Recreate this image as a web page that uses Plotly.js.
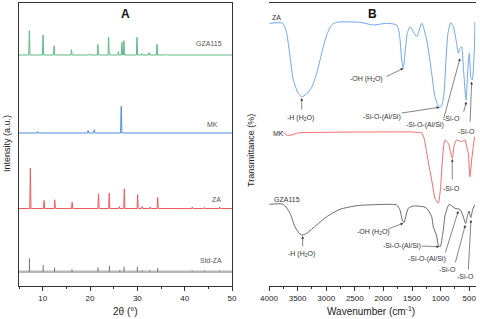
<!DOCTYPE html>
<html>
<head>
<meta charset="utf-8">
<script src="https://cdn.plot.ly/plotly-3.0.1.min.js"></script>
<style>
html,body{margin:0;padding:0;background:#fff;}
#chart{width:480px;height:319px;}
</style>
</head>
<body>
<div id="chart"></div>
<script>
// ---------- Panel A : XRD (2θ in degrees, intensity in a.u.) ----------
const xrdSeries = ['Std-ZA', 'ZA', 'MK', 'GZA115'];
const xrdOffsets = [14.3, 77.5, 153, 231];

const gzaPos = [7.19, 10.08, 12.42, 14.0, 16.09, 19.8, 21.67, 23.93, 26.0, 26.75, 27.17, 29.93, 31.0, 32.5, 34.17, 36.1, 41.7, 44.5, 47.4];
const gzaInt = [24.4, 20, 9.4, 1, 5.4, 1, 10.4, 17.7, 3.4, 12.7, 14.4, 17.7, 1.5, 2.5, 10.7, 0.7, 0.7, 0.7, 0.7];

const mkPos = [8.9, 19.6, 20.9, 26.6, 36.6, 39.5];
const mkInt = [1.5, 2.5, 3.3, 26.7, 0.7, 0.7];

const zaPos = [7.4, 10.3, 12.56, 16.23, 21.8, 24.07, 26.2, 27.25, 30.07, 31.0, 32.7, 34.3, 41.6, 44.2, 47.4];
const zaInt = [40.5, 8, 8.7, 6.3, 14.7, 15.3, 2, 19.7, 14, 2, 1.5, 11, 1.5, 1, 1.5];

const stdPos = [7.2, 10.1, 12.5, 16.2, 21.7, 24.1, 26.3, 27.2, 30.0, 31.0, 32.6, 34.3, 41.6, 44.2, 47.4];
const stdInt = [13.4, 6.7, 4, 2.4, 4.4, 6, 1.7, 5, 5, 1.5, 1.5, 3.7, 1, 1, 1];

// ---------- Panel B : FTIR (wavenumber cm-1, transmittance a.u.) ----------
const ftirZA_wn = [3990, 3760, 3691, 3633, 3575, 3488, 3429, 3341, 3254, 3166, 3079, 2991, 2904, 2817, 2409, 2177, 1943, 1768, 1722, 1680, 1651, 1622, 1582, 1535, 1418, 1330, 1243, 1156, 1098, 1040, 1011, 982, 941, 906, 871, 824, 778, 720, 690, 661, 632, 603, 556, 521, 498, 469, 446, 411, 400];
const ftirZA_T  = [260.7, 260.7, 250.7, 227.3, 204, 190.7, 187.3, 190, 196.7, 210.7, 230.7, 249, 259, 261.7, 261.7, 259, 260.7, 259, 250.7, 224, 215.7, 231, 250.7, 257.3, 247.3, 260.7, 244, 210.7, 187.3, 178, 176.7, 178, 190.7, 224, 250.7, 261.3, 257.3, 240.7, 230.7, 235.7, 237.3, 217.3, 184, 217.3, 230.7, 206, 204, 234, 262];

const ftirMK_wn = [3790, 3760, 3700, 3600, 3500, 3000, 2400, 1500, 1380, 1330, 1290, 1243, 1156, 1098, 1041, 999, 964, 924, 866, 796, 761, 719, 632, 574, 544, 516, 487, 457, 429, 405];
const ftirMK_T  = [152.3, 152.3, 149, 149, 151, 151.7, 152, 152, 151.5, 151, 146, 131, 104, 85.7, 80.7, 97.3, 127.3, 144, 140.7, 125.7, 139, 144, 142.3, 144, 137.3, 130.7, 107.3, 124, 137.3, 147.3];

const ftirGZA_wn = [3990, 3750, 3633, 3546, 3458, 3411, 3341, 3166, 2991, 2759, 2467, 2176, 1768, 1710, 1670, 1640, 1610, 1565, 1478, 1303, 1243, 1156, 1128, 1069, 1041, 1005, 971, 953, 924, 894, 850, 800, 749, 661, 614, 562, 534, 504, 470, 441, 405];
const ftirGZA_T  = [79.7, 79.7, 70.7, 57.3, 50, 49, 50.7, 59, 67.3, 74.7, 78.3, 79.3, 79, 74, 64, 61.3, 67.3, 75.7, 78, 77.3, 75.7, 67.3, 57.3, 48, 39, 37.3, 47.3, 54, 68, 74, 79.7, 78, 75.7, 74.5, 69, 60.5, 67.3, 73, 66.5, 74, 79];

// ---------- build traces ----------
function peakLine(pos, ints, base, w) {
  const xs = [5], ys = [base];
  pos.forEach((p, i) => { xs.push(p - w, p, p + w); ys.push(base, base + ints[i], base); });
  xs.push(50); ys.push(base);
  return {xs, ys};
}
function sticks(pos, ints, base) {
  const xs = [], ys = [];
  pos.forEach((p, i) => { xs.push(p, p, null); ys.push(base, base + ints[i], null); });
  return {xs, ys};
}

const gza = peakLine(gzaPos, gzaInt, xrdOffsets[3], 0.13);
const mk = peakLine(mkPos, mkInt, xrdOffsets[2], 0.15);
const za = peakLine(zaPos, zaInt, xrdOffsets[1], 0.13);
const st = sticks(stdPos, stdInt, xrdOffsets[0]);

const FONT = 'Liberation Sans, Arial, sans-serif';
const cGreen = '#5dba86', cBlue = '#4f8ee0', cRed = '#ee5a5a', cBlueB = '#6fa6ee', cRedB = '#f06a6a', cGrayB = '#5a5a5a';

const traces = [
  {x: [5, 50], y: [xrdOffsets[0], xrdOffsets[0]], mode: 'lines', line: {color: '#b8b8b8', width: 2.5}, xaxis: 'x', yaxis: 'y', hoverinfo: 'skip'},
  {x: st.xs, y: st.ys, mode: 'lines', line: {color: '#6e6e6e', width: 1}, xaxis: 'x', yaxis: 'y', connectgaps: false},
  {x: za.xs, y: za.ys, mode: 'lines', line: {color: cRed, width: 1}, xaxis: 'x', yaxis: 'y'},
  {x: mk.xs, y: mk.ys, mode: 'lines', line: {color: cBlue, width: 1}, xaxis: 'x', yaxis: 'y'},
  {x: gza.xs, y: gza.ys, mode: 'lines', line: {color: cGreen, width: 1}, xaxis: 'x', yaxis: 'y'},
  {x: ftirZA_wn, y: ftirZA_T, mode: 'lines', line: {color: cBlueB, width: 1, shape: 'spline', smoothing: 0.6}, xaxis: 'x2', yaxis: 'y2'},
  {x: ftirMK_wn, y: ftirMK_T, mode: 'lines', line: {color: cRedB, width: 1, shape: 'spline', smoothing: 0.6}, xaxis: 'x2', yaxis: 'y2'},
  {x: ftirGZA_wn, y: ftirGZA_T, mode: 'lines', line: {color: cGrayB, width: 0.9, shape: 'spline', smoothing: 0.6}, xaxis: 'x2', yaxis: 'y2'}
];

// ---------- annotations ----------
const ann = [];
function txt(x, y, text, ref, opts) {
  ann.push(Object.assign({x, y, text, xref: ref[0], yref: ref[1], showarrow: false,
    xanchor: 'center', yanchor: 'middle',
    font: {family: FONT, size: 7, color: '#333'}}, opts || {}));
}
function arr(hx, hy, tx, ty) {
  ann.push({x: hx, y: hy, ax: tx, ay: ty, xref: 'x2', yref: 'y2', axref: 'x2', ayref: 'y2',
    text: '', showarrow: true, arrowhead: 2, arrowsize: 0.9, arrowwidth: 0.6, arrowcolor: '#333'});
}
const A = ['x', 'y'], B = ['x2', 'y2'];
// series labels A
txt(45.1, 242.7, 'GZA115', A, {font: {family: FONT, size: 7, color: '#555'}});
txt(45.8, 162, 'MK', A, {font: {family: FONT, size: 7, color: '#555'}});
txt(46.7, 86.7, 'ZA', A, {font: {family: FONT, size: 7, color: '#555'}});
txt(45.6, 26, 'Std-ZA', A, {font: {family: FONT, size: 7, color: '#555'}});
// series labels B
txt(3983, 266.7, 'ZA', B, {xanchor: 'left'});
txt(3970, 150.7, 'MK', B, {xanchor: 'left'});
txt(3953, 84.7, 'GZA115', B, {xanchor: 'left'});
// ZA band labels
txt(3458, 165.7, '-H (H<sub>2</sub>O)', B); arr(3428, 186, 3428, 173);
txt(2292, 205, '-OH (H<sub>2</sub>O)', B); arr(1652, 215.7, 1972, 206.7);
txt(2030, 167.3, '-Si-O-(Al/Si)', B); arr(1023, 176.7, 1710, 170.7);
txt(1273, 159, '-Si-O-(Al/Si)', B); arr(661, 225.7, 953, 164);
txt(801, 165.7, '-Si-O', B); arr(549, 182.3, 604, 170.7);
txt(544, 153, '-Si-O', B); arr(457, 202.3, 486, 160.7);
// MK
txt(806, 95.7, '-Si-O', B); arr(796, 125, 796, 103);
// GZA115
txt(3428, 29.7, '-H (H<sub>2</sub>O)', B); arr(3411, 48, 3411, 36);
txt(2165, 52.3, '-OH (H<sub>2</sub>O)', B); arr(1652, 60.7, 1937, 54.7);
txt(1675, 38, '-Si-O-(Al/Si)', B); arr(1023, 37.3, 1360, 38);
txt(1243, 24.7, '-Si-O-(Al/Si)', B); arr(691, 73, 924, 30);
txt(883, 14.7, '-Si-O', B); arr(568, 59, 749, 20);
txt(562, 7.3, '-Si-O', B); arr(469, 64, 516, 13);

// panel titles & axis titles
const P = ['paper', 'paper'];
txt(125 / 480, 1 - 14 / 319, '<b>A</b>', P, {font: {family: FONT, size: 12, color: '#111'}});
txt(372 / 480, 1 - 14 / 319, '<b>B</b>', P, {font: {family: FONT, size: 12, color: '#111'}});
txt(125 / 480, 1 - 311 / 319, '2θ (°)', P, {font: {family: FONT, size: 10, color: '#222'}});
txt(371 / 480, 1 - 311 / 319, 'Wavenumber (cm<sup>-1</sup>)', P, {font: {family: FONT, size: 10, color: '#222'}});
txt(7 / 480, 1 - 144 / 319, 'Intensity (a.u.)', P, {textangle: -90, font: {family: FONT, size: 9, color: '#222'}});
txt(251 / 480, 1 - 151 / 319, 'Transmittance (%)', P, {textangle: -90, font: {family: FONT, size: 9, color: '#222'}});

const axBase = {showline: true, mirror: true, linecolor: '#333', linewidth: 1, showgrid: false, zeroline: false,
  tickfont: {family: FONT, size: 8, color: '#222'}};

const layout = {
  width: 480, height: 319,
  margin: {l: 0, r: 0, t: 0, b: 0},
  paper_bgcolor: '#fff', plot_bgcolor: '#fff',
  showlegend: false,
  font: {family: FONT},
  xaxis: Object.assign({}, axBase, {domain: [19 / 480, 232 / 480], range: [5, 50], tick0: 0, dtick: 10,
    ticks: 'outside', ticklen: 4, tickcolor: '#333',
    minor: {dtick: 5, tick0: 0, ticks: 'outside', ticklen: 2, tickcolor: '#333'}}),
  yaxis: Object.assign({}, axBase, {domain: [33 / 319, 316 / 319], range: [0, 283], showticklabels: false, ticks: ''}),
  xaxis2: Object.assign({}, axBase, {domain: [269 / 480, 475.5 / 480], range: [4000, 390], tick0: 0, dtick: 500,
    ticks: 'outside', ticklen: 4, tickcolor: '#333',
    minor: {dtick: 250, tick0: 0, ticks: 'outside', ticklen: 2, tickcolor: '#333'}}),
  yaxis2: Object.assign({}, axBase, {domain: [35 / 319, 316 / 319], range: [0, 281], showticklabels: false, ticks: ''}),
  annotations: ann
};

Plotly.newPlot('chart', traces, layout, {staticPlot: true, displayModeBar: false});
</script>
</body>
</html>
